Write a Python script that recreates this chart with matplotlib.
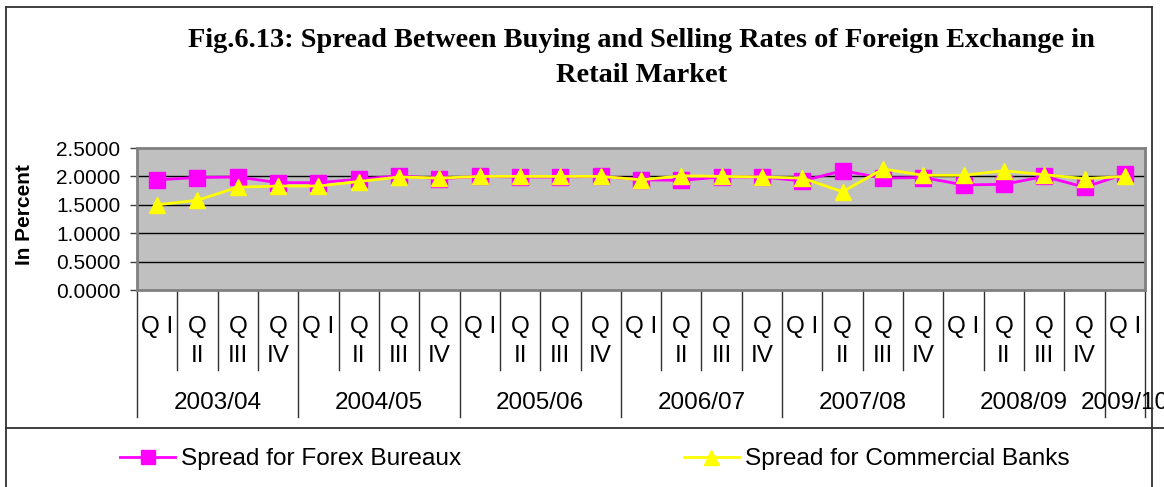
import matplotlib
matplotlib.use("Agg")
import matplotlib.pyplot as plt
from matplotlib.lines import Line2D
from matplotlib.transforms import blended_transform_factory

# Quarterly spreads (percent)
years = ["2003/04", "2004/05", "2005/06", "2006/07", "2007/08", "2008/09", "2009/10"]
quarters_per_year = [4, 4, 4, 4, 4, 4, 1]
quarter_names = ["Q I", "Q II", "Q III", "Q IV"]

forex_bureaux = [1.94, 1.98, 1.99, 1.89, 1.89, 1.95, 2.01, 1.96, 2.00, 1.99, 1.99, 2.00,
                 1.94, 1.93, 1.99, 1.99, 1.92, 2.10, 1.97, 1.98, 1.85, 1.86, 2.00, 1.81, 2.04]
commercial_banks = [1.50, 1.58, 1.81, 1.83, 1.83, 1.91, 1.99, 1.97, 2.00, 2.00, 2.00, 2.00,
                    1.94, 2.01, 2.00, 1.99, 1.97, 1.73, 2.13, 2.02, 2.02, 2.10, 2.03, 1.96, 2.00]

y_ticks = [0.0, 0.5, 1.0, 1.5, 2.0, 2.5]

plt.rcParams["font.family"] = ["Liberation Sans", "DejaVu Sans"]

W, H = 1164, 487
fig = plt.figure(figsize=(W / 100, H / 100), dpi=100)
fig.patch.set_facecolor("white")

ax_l, ax_r, ax_t, ax_b = 137, 1145, 148, 290
ax = fig.add_axes([ax_l / W, 1 - ax_b / H, (ax_r - ax_l) / W, (ax_b - ax_t) / H])
ax.set_facecolor("#C0C0C0")

n = len(forex_bureaux)
x = list(range(n))

ax.plot(x, forex_bureaux, color="#FF00FF", lw=2, marker="s", ms=11,
        mec="#FF00FF", mfc="#FF00FF", zorder=3, label="Spread for Forex Bureaux")
ax.plot(x, commercial_banks, color="#FFFF00", lw=2, marker="^", ms=12,
        mec="#FFFF00", mfc="#FFFF00", zorder=4, label="Spread for Commercial Banks")

ax.set_xlim(-0.5, n - 0.5)
ax.set_ylim(0, 2.5)
ax.set_yticks(y_ticks)
ax.set_yticklabels([f"{v:.4f}" for v in y_ticks], fontsize=15)
ax.tick_params(axis="y", length=5, width=1, pad=7, color="#404040")
ax.set_xticks([])
for v in y_ticks[1:-1]:
    ax.axhline(v, color="black", lw=1, zorder=1)
for side in ["top", "right", "left", "bottom"]:
    ax.spines[side].set_color("#808080")
    ax.spines[side].set_linewidth(2)

# Multi-level category axis
cat_fs = 17.5
tr = blended_transform_factory(ax.transData, ax.transAxes)
px = 1.0 / (ax_b - ax_t)  # one pixel in axes fraction
y_q_end = -(370 - ax_b) * px
y_y_end = -(417 - ax_b) * px
y_q1 = -(333 - ax_b) * px
y_q2 = -(362 - ax_b) * px
y_yr = -(409 - ax_b) * px

pos = 0
year_bounds = [-0.5]
for yr, nq in zip(years, quarters_per_year):
    for q in range(nq):
        name = quarter_names[q]
        if q == 0:
            ax.text(pos, y_q1, name, transform=tr, ha="center", va="baseline", fontsize=cat_fs)
        else:
            first, second = name.split(" ")
            ax.text(pos, y_q1, first, transform=tr, ha="center", va="baseline", fontsize=cat_fs)
            ax.text(pos, y_q2, second, transform=tr, ha="center", va="baseline", fontsize=cat_fs)
        if q < nq - 1:
            ax.plot([pos + 0.5, pos + 0.5], [0, y_q_end], transform=tr, color="#303030",
                    lw=1, clip_on=False)
        pos += 1
    ax.text(pos - nq / 2 - 0.5, y_yr, yr, transform=tr, ha="center", va="baseline",
            fontsize=cat_fs)
    year_bounds.append(pos - 0.5)

for b in year_bounds:
    ax.plot([b, b], [0, y_y_end], transform=tr, color="#303030", lw=1, clip_on=False)

# Axis title
fig.text(25 / W, 1 - 215 / H, "In Percent", rotation=90, ha="center", va="center",
         fontsize=15, fontweight="bold")

# Chart title
title_font = ["Liberation Serif", "DejaVu Serif"]
fig.text(641 / W, 1 - 47 / H,
         "Fig.6.13: Spread Between Buying and Selling Rates of Foreign Exchange in",
         ha="center", va="baseline", fontsize=20.4, fontweight="bold", family=title_font)
fig.text(642 / W, 1 - 82 / H, "Retail Market",
         ha="center", va="baseline", fontsize=20.4, fontweight="bold", family=title_font)

# Frame lines
frame_kw = dict(color="#303030", lw=1.3, transform=fig.transFigure)
fig.add_artist(Line2D([6 / W, 6 / W], [0, 1 - 7 / H], **frame_kw))
fig.add_artist(Line2D([6 / W, 1152 / W], [1 - 7 / H, 1 - 7 / H], **frame_kw))
fig.add_artist(Line2D([1152 / W, 1152 / W], [0, 1 - 7 / H], **frame_kw))
fig.add_artist(Line2D([6 / W, 1], [1 - 428 / H, 1 - 428 / H], **frame_kw))

# Legend
fig.legend(loc="center left", bbox_to_anchor=(120 / W, 1 - 459 / H), ncol=2,
           frameon=False, fontsize=17.6, handlelength=2.25, handletextpad=0.25,
           columnspacing=9.1, borderpad=0, borderaxespad=0, markerscale=0.9)

fig.savefig("out.png", dpi=100)
